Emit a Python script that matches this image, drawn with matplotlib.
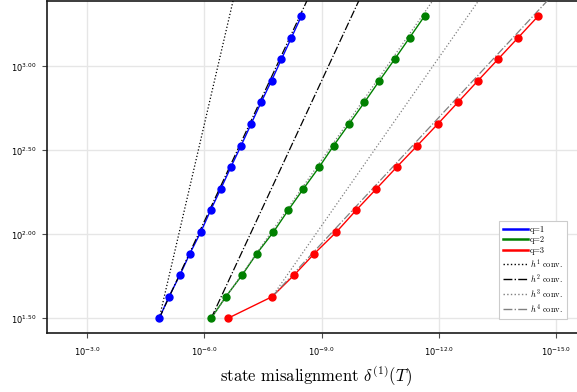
import numpy as np
import matplotlib
matplotlib.use('Agg')
import matplotlib.pyplot as plt
from matplotlib.lines import Line2D
from matplotlib.ticker import FixedLocator, FixedFormatter, NullLocator

# number of steps (y axis)
N = [31.62, 42.52, 57.18, 76.88, 103.3, 138.9, 186.8, 251.2, 337.7, 454.1,
     610.5, 820.9, 1103.7, 1483.9, 1995.3]

# state misalignment for each order q (x axis)
err_q1 = [1.44e-5, 8.13e-6, 4.26e-6, 2.36e-6, 1.24e-6, 6.98e-7, 3.81e-7, 2.11e-7,
          1.15e-7, 6.40e-8, 3.55e-8, 1.92e-8, 1.07e-8, 5.92e-9, 3.29e-9]
err_q2 = [6.75e-7, 2.84e-7, 1.09e-7, 4.57e-8, 1.71e-8, 7.23e-9, 2.92e-9, 1.16e-9,
          4.91e-10, 1.99e-10, 8.04e-11, 3.33e-11, 1.35e-11, 5.58e-12, 2.31e-12]
err_q3 = [2.52e-7, 1.86e-8, 5.08e-9, 1.53e-9, 4.18e-10, 1.32e-10, 3.96e-11, 1.20e-11,
          3.55e-12, 1.06e-12, 3.25e-13, 1.00e-13, 3.04e-14, 9.27e-15, 2.84e-15]

xticks = [1e-3, 1e-6, 1e-9, 1e-12, 1e-15]
xticklabels = [r'$10^{-3.0}$', r'$10^{-6.0}$', r'$10^{-9.0}$', r'$10^{-12.0}$', r'$10^{-15.0}$']
yticks = [10**1.5, 10**2.0, 10**2.5, 10**3.0]
yticklabels = [r'$10^{1.50}$', r'$10^{2.00}$', r'$10^{2.50}$', r'$10^{3.00}$']

plt.rcParams['mathtext.fontset'] = 'dejavusans'

fig = plt.figure(figsize=(5.77, 3.92), dpi=100)
ax = fig.add_axes([46.7 / 577, 1 - 333.3 / 392, (585 - 46.7) / 577, 333.3 / 392 - 0.5 / 392])
ax.set_xscale('log')
ax.set_yscale('log')

series = [(err_q1, 'blue', 'q=1'), (err_q2, 'green', 'q=2'), (err_q3, 'red', 'q=3')]
for err, col, lab in series:
    ax.plot(err, N, color=col, lw=1.0, zorder=2)
    ax.plot(err, N, 'o', color=col, ms=5, zorder=4)

# reference convergence lines, anchored on data points
refstyle = {1: ('k', ':'), 2: ('k', '-.'), 3: ('0.5', ':'), 4: ('0.5', '-.')}
anchors = [(err_q1, 0, [1, 2]), (err_q2, 0, [2, 3]), (err_q3, 1, [3, 4])]
for err, i0, orders in anchors:
    n0, e0 = N[i0], err[i0]
    nn = np.array([n0, 10**3.6])
    for k in orders:
        c, ls = refstyle[k]
        ax.plot(e0 * (nn / n0) ** (-k), nn, color=c, ls=ls, lw=0.9, zorder=3)

ax.set_xlim(10**-1.961, 10**-15.742)
ax.set_ylim(10**1.4108, 10**3.392)

ax.xaxis.set_major_locator(FixedLocator(xticks))
ax.xaxis.set_major_formatter(FixedFormatter(xticklabels))
ax.yaxis.set_major_locator(FixedLocator(yticks))
ax.yaxis.set_major_formatter(FixedFormatter(yticklabels))
ax.xaxis.set_minor_locator(NullLocator())
ax.yaxis.set_minor_locator(NullLocator())
ax.tick_params(axis='both', which='major', labelsize=6, length=3.5, width=0.8,
               color='0.3', direction='out')
ax.tick_params(axis='x', pad=5)
ax.tick_params(axis='y', pad=4)

ax.grid(True, color='#e6e6e6', lw=1.0, zorder=0)
ax.set_axisbelow(True)
for s in ['left', 'bottom', 'top']:
    ax.spines[s].set_color('0.1')
    ax.spines[s].set_linewidth(1.2)
ax.spines['right'].set_visible(False)

ax.set_xlabel(r'state misalignment $\delta^{(1)}(T)$', fontsize=12,
              family='cmr10', math_fontfamily='cm', labelpad=4)

handles = [Line2D([], [], color='blue', lw=1.8),
           Line2D([], [], color='green', lw=1.8),
           Line2D([], [], color='red', lw=1.8)]
labels = ['q=1', 'q=2', 'q=3']
for k in [1, 2, 3, 4]:
    c, ls = refstyle[k]
    handles.append(Line2D([], [], color=c, ls=ls, lw=1.0))
    labels.append(r'$h^{%d}$ conv.' % k)

leg = fig.legend(handles, labels, loc='lower right',
                 bbox_to_anchor=(567 / 577, 1 - 319 / 392), borderaxespad=0,
                 fontsize=6, handlelength=3.0, handletextpad=0.2, labelspacing=0.25,
                 borderpad=0.5, fancybox=False, edgecolor='0.8', framealpha=1)
leg.get_frame().set_linewidth(0.8)
for t in leg.get_texts():
    t.set_family('cmr10')
    t.set_math_fontfamily('cm')

fig.savefig('out.png', dpi=100)
